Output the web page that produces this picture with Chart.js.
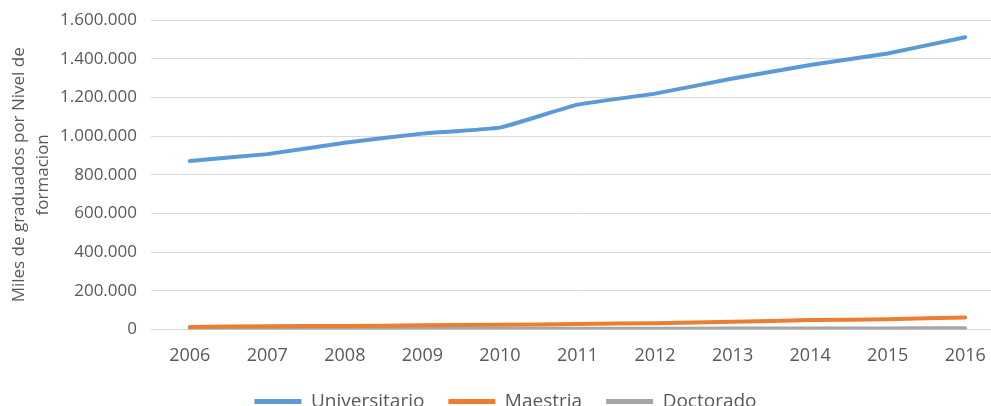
<!DOCTYPE html>
<html>
<head>
<meta charset="utf-8">
<script src="https://cdn.jsdelivr.net/npm/chart.js@4"></script>
<style>
  html, body { margin: 0; padding: 0; background: #fff; overflow: hidden; }
  #wrap { width: 1004px; height: 424px; margin-top: -4px; }
</style>
</head>
<body>
<div id="wrap"><canvas id="chartGraduados"></canvas></div>
<script>
const years = ['2006','2007','2008','2009','2010','2011','2012','2013','2014','2015','2016'];
const universitario = [872000, 907000, 966000, 1013000, 1044000, 1163000, 1220000, 1298000, 1368000, 1428000, 1512000];
const maestria = [13000, 16000, 18000, 21000, 24000, 28000, 32000, 40000, 48000, 53000, 62000];
const doctorado = [1500, 1800, 2100, 2500, 2900, 3300, 3700, 4200, 4700, 5200, 6000];
const yTitle = ['Miles de graduados por Nivel de', 'formacion'];

const fmt = v => String(Math.round(v)).replace(/\B(?=(\d{3})+(?!\d))/g, '.');

// tighter legend box (wide item spacing, but plot not pushed up) and items nudged up
const legendShrink = {
  id: 'legendShrink',
  afterInit(chart) {
    const fit = chart.legend.fit;
    chart.legend.fit = function () { fit.call(this); this.height -= 8; };
  },
  afterLayout(chart) {
    chart.legend.top -= 7;
    chart.legend.bottom -= 7;
  }
};

document.addEventListener('DOMContentLoaded', () => {
  const ctx = document.getElementById('chartGraduados');
  new Chart(ctx, {
    type: 'line',
    data: {
      labels: years,
      datasets: [{
        label: 'Universitario',
        data: universitario,
        borderColor: '#5B9BD5',
        backgroundColor: '#5B9BD5',
        borderWidth: 4,
        pointRadius: 0,
        tension: 0.1,
        borderCapStyle: 'round'
      },{
        label: 'Maestria',
        data: maestria,
        borderColor: '#ED7D31',
        backgroundColor: '#ED7D31',
        borderWidth: 4,
        pointRadius: 0,
        tension: 0.1,
        borderCapStyle: 'round'
      },{
        label: 'Doctorado',
        data: doctorado,
        borderColor: '#A5A5A5',
        backgroundColor: '#A5A5A5',
        borderWidth: 4,
        pointRadius: 0,
        tension: 0.1,
        borderCapStyle: 'round'
      }]
    },
    options: {
      responsive: true,
      maintainAspectRatio: false,
      animation: false,
      layout: { padding: { top: 0, left: 7, right: 0, bottom: 0 } },
      plugins: {
        tooltip: { enabled: false },
        legend: {
          position: 'bottom',
          labels: {
            color: '#595959',
            font: { family: 'Open Sans', size: 19 },
            boxWidth: 47,
            boxHeight: 5,
            padding: 24,
            generateLabels: chart => Chart.defaults.plugins.legend.labels.generateLabels(chart)
              .map(l => Object.assign(l, { lineWidth: 0 }))
          }
        }
      },
      scales: {
        x: {
          offset: true,
          grid: { display: false },
          border: { color: '#D9D9D9', width: 1 },
          ticks: { color: '#595959', font: { family: 'Open Sans', size: 18 }, padding: 8 }
        },
        y: {
          min: 0,
          max: 1600000,
          ticks: {
            stepSize: 200000,
            color: '#595959',
            font: { family: 'Open Sans', size: 17 },
            padding: 14,
            callback: v => fmt(v)
          },
          grid: { color: '#D9D9D9', drawTicks: false },
          border: { display: false },
          title: {
            display: true,
            text: yTitle,
            color: '#595959',
            font: { family: 'Open Sans', size: 17, lineHeight: 1.4 },
            padding: 0
          },
          afterFit: s => { s.width = 144; }
        }
      }
    },
    plugins: [legendShrink]
  });
});
</script>
</body>
</html>
